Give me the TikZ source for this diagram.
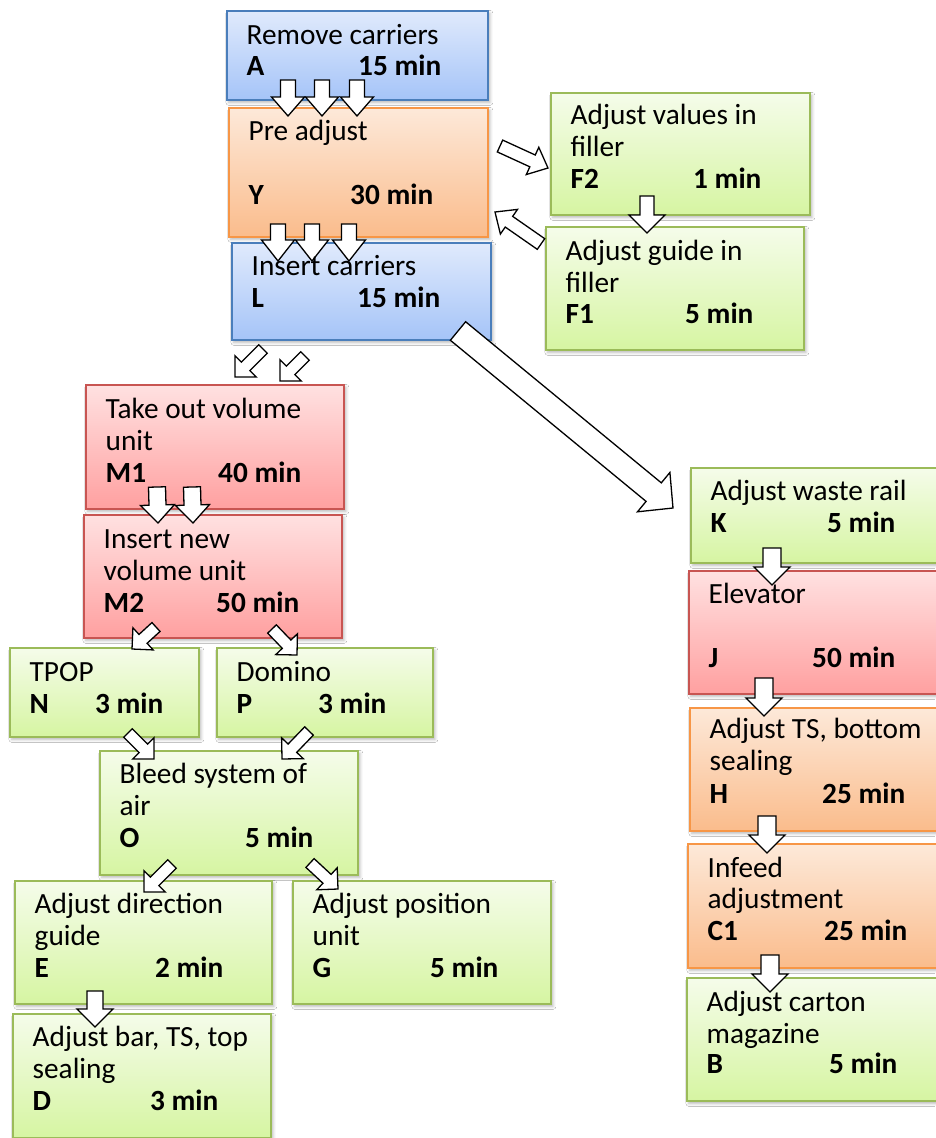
\documentclass[tikz,border=0pt]{standalone}
\usepackage{fontspec}
\setmainfont{Carlito}
\usetikzlibrary{calc,shadows.blur}

\definecolor{bluetop}{RGB}{224,234,252}
\definecolor{bluebot}{RGB}{165,196,248}
\definecolor{bluebd}{RGB}{74,126,187}
\definecolor{oratop}{RGB}{253,233,217}
\definecolor{orabot}{RGB}{250,188,140}
\definecolor{orabd}{RGB}{247,150,70}
\definecolor{redtop}{RGB}{255,225,225}
\definecolor{redbot}{RGB}{255,160,160}
\definecolor{redbd}{RGB}{200,85,82}
\definecolor{grntop}{RGB}{245,252,234}
\definecolor{grnbot}{RGB}{214,245,162}
\definecolor{grnbd}{RGB}{155,187,89}

\tikzset{
  taskframe/.style={draw, line width=1.8pt, anchor=north west, inner sep=0pt,
    blur shadow={shadow xshift=2pt, shadow yshift=-2.5pt, shadow blur radius=3pt, shadow opacity=30}},
  bluetask/.style={taskframe, draw=bluebd, top color=bluetop, bottom color=bluebot},
  oratask/.style={taskframe, draw=orabd, top color=oratop, bottom color=orabot},
  redtask/.style={taskframe, draw=redbd, top color=redtop, bottom color=redbot},
  grntask/.style={taskframe, draw=grnbd, top color=grntop, bottom color=grnbot},
  txt/.style={anchor=base west, inner sep=0pt, font=\fontsize{29.3}{32}\selectfont},
  blk/.style={draw=black, fill=white, line width=1.3pt, line join=miter},
}

% task box: name, style, left, top, width, height
\newcommand\taskbox[6]{\node[#2, minimum width=#5pt, minimum height=#6pt] (#1) at (#3,-#4) {};}
% text line inside a box: box, line id, baseline offset, text
\newcommand\tline[4]{\node[txt] (#1-#2) at ($(#1.north west)+(20.5,-#3)$) {#4};}
% code and duration line: box, baseline offset, code, duration offset, duration
\newcommand\tcode[5]{%
  \node[txt] (#1-code) at ($(#1.north west)+(20.5,-#2)$) {\bfseries #3};
  \node[txt] (#1-time) at ($(#1.north west)+(#4,-#2)$) {\bfseries #5};}
% block arrow: tail, tip, shaft half width, head half width, head length
\newcommand\barrow[5]{%
  \coordinate (bh) at ($(#2)!#5pt!(#1)$);
  \draw[blk] ($(#1)!#3pt!90:(#2)$) -- ($(bh)!#3pt!-90:(#1)$) -- ($(bh)!#4pt!-90:(#1)$)
    -- (#2) -- ($(bh)!#4pt!90:(#1)$) -- ($(bh)!#3pt!90:(#1)$) -- ($(#1)!#3pt!-90:(#2)$) -- cycle;}

\begin{document}
\begin{tikzpicture}[x=1pt,y=1pt]
\useasboundingbox (0,0) rectangle (935,-1138);
\fill[white] (0,0) rectangle (935,-1138);

% ---- boxes ----
\taskbox{A}{bluetask}{226}{10}{261}{89}
\taskbox{Y}{oratask}{228}{107}{259}{129}
\taskbox{L}{bluetask}{231}{242}{259}{97}
\taskbox{F2}{grntask}{550}{92}{259}{122}
\taskbox{F1}{grntask}{545}{226}{258}{123}
\taskbox{M1}{redtask}{85}{384}{258}{124}
\taskbox{M2}{redtask}{83}{514}{258}{123}
\taskbox{N}{grntask}{9}{647}{189}{89}
\taskbox{P}{grntask}{216}{647}{216}{89}
\taskbox{O}{grntask}{99}{750}{258}{124}
\taskbox{E}{grntask}{14}{880}{257}{123}
\taskbox{G}{grntask}{292}{880}{258}{123}
\taskbox{D}{grntask}{12}{1013}{258}{124}
\taskbox{K}{grntask}{690}{467}{262}{95}
\taskbox{J}{redtask}{688}{570}{262}{123}
\taskbox{H}{oratask}{689}{707}{262}{123}
\taskbox{C1}{oratask}{687}{843}{262}{124}
\taskbox{B}{grntask}{686}{977}{262}{123}

% ---- arrow end points ----
\coordinate (ay1t) at (288,-80);  \coordinate (ay1h) at (288,-116);
\coordinate (ay2t) at (322,-80);  \coordinate (ay2h) at (322,-116);
\coordinate (ay3t) at (357,-80);  \coordinate (ay3h) at (357,-116);
\coordinate (yl1t) at (278,-224); \coordinate (yl1h) at (278,-261);
\coordinate (yl2t) at (312,-224); \coordinate (yl2h) at (312,-261);
\coordinate (yl3t) at (349,-224); \coordinate (yl3h) at (349,-261);
\coordinate (yft) at (500,-146);  \coordinate (yfh) at (548,-168);
\coordinate (fft) at (647,-196);  \coordinate (ffh) at (647,-233);
\coordinate (fyt) at (541,-244);  \coordinate (fyh) at (495,-212);
\coordinate (lm1t) at (263,-349); \coordinate (lm1h) at (235,-377);
\coordinate (lm2t) at (305,-356); \coordinate (lm2h) at (280,-381);
\coordinate (lkt) at (458,-331);  \coordinate (lkh) at (673,-508);
\coordinate (mm1t) at (157,-487); \coordinate (mm1h) at (158,-523);
\coordinate (mm2t) at (192,-487); \coordinate (mm2h) at (193,-523);
\coordinate (mnt) at (156,-627);  \coordinate (mnh) at (132,-649);
\coordinate (mpt) at (272,-629);  \coordinate (mph) at (297,-655);
\coordinate (not) at (128,-733);  \coordinate (noh) at (154,-759);
\coordinate (pot) at (309,-731);  \coordinate (poh) at (282,-759);
\coordinate (oet) at (172,-864);  \coordinate (oeh) at (144,-892);
\coordinate (ogt) at (310,-863);  \coordinate (ogh) at (338,-889);
\coordinate (edt) at (95,-991);   \coordinate (edh) at (95,-1027);
\coordinate (kjt) at (772,-548);  \coordinate (kjh) at (772,-585);
\coordinate (jht) at (764,-678);  \coordinate (jhh) at (764,-716);
\coordinate (hct) at (767,-816);  \coordinate (hch) at (767,-853);
\coordinate (cbt) at (770,-955);  \coordinate (cbh) at (770,-992);

% ---- block arrows ----
\barrow{ay1t}{ay1h}{7.5}{16.5}{19}
\barrow{ay2t}{ay2h}{7.5}{16.5}{19}
\barrow{ay3t}{ay3h}{7.5}{16.5}{19}
\barrow{yl1t}{yl1h}{7.5}{16.5}{21}
\barrow{yl2t}{yl2h}{7.5}{16.5}{21}
\barrow{yl3t}{yl3h}{7.5}{16.5}{21}
\barrow{yft}{yfh}{6.5}{15}{17}
\barrow{fyt}{fyh}{6.5}{15}{17}
\barrow{fft}{ffh}{7}{18}{18}
\barrow{lm1t}{lm1h}{6}{15}{15}
\barrow{lm2t}{lm2h}{6}{15}{15}
\barrow{lkt}{lkh}{12}{25.5}{25}
\barrow{mm1t}{mm1h}{8.5}{17}{18}
\barrow{mm2t}{mm2h}{8.5}{17}{18}
\barrow{mnt}{mnh}{6}{15}{15}
\barrow{mpt}{mph}{6}{15}{15}
\barrow{not}{noh}{6}{15}{15}
\barrow{pot}{poh}{6}{15}{15}
\barrow{oet}{oeh}{6}{15}{15}
\barrow{ogt}{ogh}{6}{15}{15}
\barrow{edt}{edh}{8}{18}{18}
\barrow{kjt}{kjh}{9}{18}{18}
\barrow{jht}{jhh}{9}{18}{18}
\barrow{hct}{hch}{9}{18}{18}
\barrow{cbt}{cbh}{9}{18}{18}

% ---- texts ----
\tline{A}{1}{34}{Remove carriers}     \tcode{A}{65}{A}{132}{15 min}
\tline{Y}{1}{33}{Pre adjust}          \tcode{Y}{97}{Y}{122}{30 min}
\tline{L}{1}{33}{Insert carriers}     \tcode{L}{65}{L}{126}{15 min}
\tline{F2}{1}{32}{Adjust values in} \tline{F2}{2}{64}{filler}  \tcode{F2}{96}{F2}{143}{1 min}
\tline{F1}{1}{34}{Adjust guide in}  \tline{F1}{2}{66}{filler}  \tcode{F1}{97}{F1}{140}{5 min}
\tline{M1}{1}{34}{Take out volume}  \tline{M1}{2}{66}{unit}    \tcode{M1}{98}{M1}{133}{40 min}
\tline{M2}{1}{34}{Insert new}       \tline{M2}{2}{66}{volume unit} \tcode{M2}{98}{M2}{133}{50 min}
\tline{N}{1}{34}{TPOP}                \tcode{N}{66}{N}{86}{3 min}
\tline{P}{1}{34}{Domino}              \tcode{P}{66}{P}{102}{3 min}
\tline{O}{1}{33}{Bleed system of}   \tline{O}{2}{65}{air}      \tcode{O}{97}{O}{146}{5 min}
\tline{E}{1}{33}{Adjust direction}  \tline{E}{2}{65}{guide}    \tcode{E}{97}{E}{141}{2 min}
\tline{G}{1}{33}{Adjust position}   \tline{G}{2}{65}{unit}     \tcode{G}{97}{G}{138}{5 min}
\tline{D}{1}{33}{Adjust bar, TS, top} \tline{D}{2}{65}{sealing} \tcode{D}{97}{D}{138}{3 min}
\tline{K}{1}{33}{Adjust waste rail}   \tcode{K}{65}{K}{137}{5 min}
\tline{J}{1}{33}{Elevator}            \tcode{J}{97}{J}{124}{50 min}
\tline{H}{1}{31}{Adjust TS, bottom} \tline{H}{2}{63}{sealing}  \tcode{H}{96}{H}{133}{25 min}
\tline{C1}{1}{34}{Infeed}           \tline{C1}{2}{65}{adjustment} \tcode{C1}{97}{C1}{137}{25 min}
\tline{B}{1}{34}{Adjust carton}     \tline{B}{2}{66}{magazine} \tcode{B}{96}{B}{143}{5 min}
\end{tikzpicture}
\end{document}
